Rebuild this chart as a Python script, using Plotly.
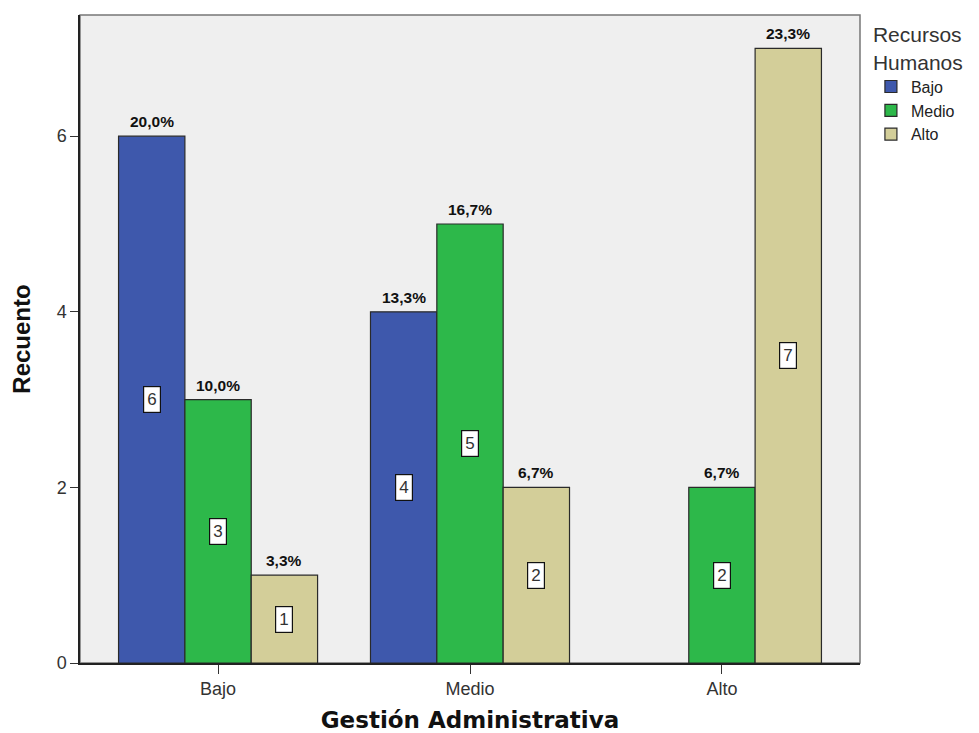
import plotly.graph_objects as go

categories = ["Bajo", "Medio", "Alto"]
series_names = ["Bajo", "Medio", "Alto"]
bajo_vals = [6, 4, 0]
medio_vals = [3, 5, 2]
alto_vals = [1, 2, 7]
total = 30
colors = ["#3E58AC", "#2DB84A", "#D3CE99"]

series_values = [bajo_vals, medio_vals, alto_vals]

BARGAP = 0.21
fig = go.Figure()
for name, vals, col in zip(series_names, series_values, colors):
    fig.add_trace(go.Bar(
        name=name, x=categories, y=[v if v else None for v in vals],
        marker=dict(color=col, line=dict(color="#2a2a2a", width=1.2)),
    ))

n = len(series_values)
bw = (1 - BARGAP) / n
annotations = []
for i, vals in enumerate(series_values):
    for j, v in enumerate(vals):
        if v == 0:
            continue
        xc = j + (i - (n - 1) / 2) * bw
        pct = f"{v / total * 100:.1f}%".replace(".", ",")
        annotations.append(dict(
            x=xc, y=v, xref="x", yref="y", text=f"<b>{pct}</b>",
            showarrow=False, yanchor="bottom", yshift=4,
            font=dict(family="Liberation Sans", size=15.5, color="#111"),
        ))
        annotations.append(dict(
            x=xc, y=v / 2, xref="x", yref="y", text=str(v),
            showarrow=False, bgcolor="white", bordercolor="#111",
            borderwidth=1.2, borderpad=3,
            font=dict(family="Liberation Sans", size=17, color="#333"),
        ))

fig.update_layout(
    width=971, height=725,
    margin=dict(l=72, r=119, t=7, b=70),
    paper_bgcolor="white", plot_bgcolor="#EFEFEF",
    barmode="group", bargap=BARGAP, bargroupgap=0,
    showlegend=True,
    legend=dict(
        x=1.014, y=1.0, xanchor="left", yanchor="top",
        title=dict(text="Recursos<br>Humanos", font=dict(family="Liberation Sans", size=21, color="#333")),
        font=dict(family="Liberation Sans", size=16, color="#222"),
        bgcolor="rgba(0,0,0,0)", tracegroupgap=0, itemwidth=30,
    ),
    annotations=annotations,
    font=dict(family="Liberation Sans"),
)
fig.update_xaxes(
    type="category", range=[-0.548, 2.548], automargin=False,
    showline=True, linecolor="#222", linewidth=1.5, mirror=False,
    ticks="outside", ticklen=9, tickcolor="#333",
    tickfont=dict(family="Liberation Sans", size=18, color="#333"),
    title=dict(text="<b>Gestión Administrativa</b>", font=dict(family="DejaVu Sans", size=23, color="#111"), standoff=20),
    showgrid=False,
)
fig.update_yaxes(
    range=[0, 7.38], tickvals=[0, 2, 4, 6], automargin=False,
    showline=True, linecolor="#222", linewidth=1.5,
    ticks="outside", ticklen=8, tickcolor="#333",
    tickfont=dict(family="Liberation Sans", size=18, color="#333"),
    title=dict(text="<b>Recuento</b>", font=dict(family="Liberation Sans", size=24, color="#111"), standoff=21),
    showgrid=False, zeroline=False,
)
# frame on top and right
fig.add_shape(type="rect", xref="paper", yref="paper", x0=0, y0=0, x1=1, y1=1,
              line=dict(color="#777", width=1.5), layer="below", fillcolor="rgba(0,0,0,0)")

fig.write_html("out.html")
